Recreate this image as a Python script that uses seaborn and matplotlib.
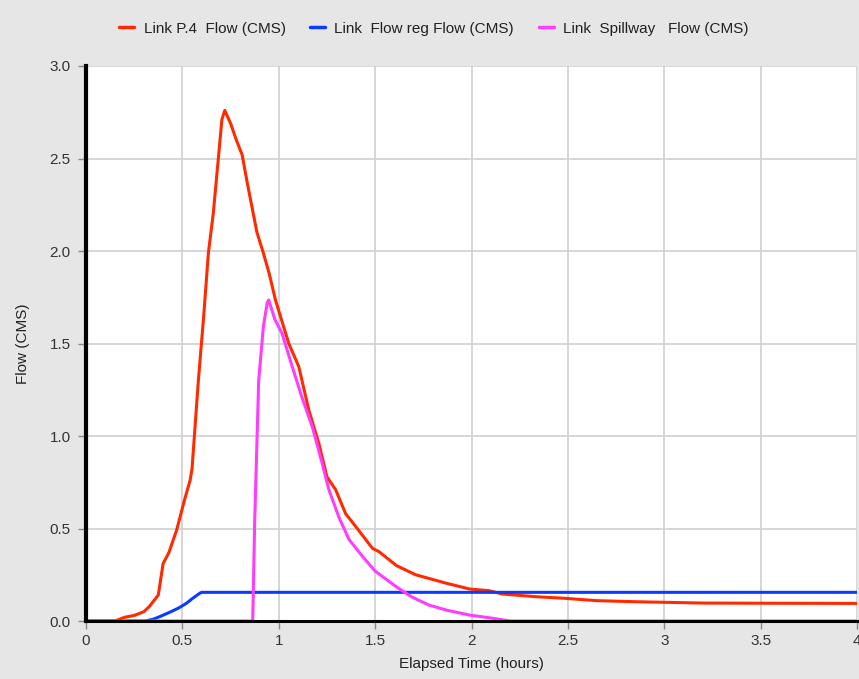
import numpy as np
import pandas as pd
import matplotlib
matplotlib.use("Agg")
import matplotlib.pyplot as plt
import seaborn as sns

# Series: Link P.4 Flow
p4_t = [0.0, 0.15, 0.20, 0.25, 0.30, 0.33, 0.375, 0.40, 0.43, 0.47, 0.51, 0.54, 0.55, 0.583, 0.61,
        0.635, 0.66, 0.6875, 0.705, 0.72, 0.75, 0.78, 0.81, 0.84, 0.887, 0.92, 0.95, 0.983, 1.052,
        1.104, 1.156, 1.208, 1.25, 1.295, 1.347, 1.40, 1.486, 1.52, 1.61, 1.71, 1.78, 1.87, 1.99,
        2.09, 2.16, 2.34, 2.48, 2.65, 2.86, 3.2, 4.0]
p4_v = [0.0, 0.0, 0.02, 0.03, 0.05, 0.08, 0.14, 0.31, 0.37, 0.49, 0.65, 0.76, 0.82, 1.30, 1.64,
        1.99, 2.20, 2.51, 2.71, 2.76, 2.69, 2.60, 2.52, 2.35, 2.10, 1.99, 1.88, 1.735, 1.50,
        1.375, 1.14, 0.96, 0.78, 0.71, 0.58, 0.51, 0.393, 0.375, 0.30, 0.25, 0.23, 0.204, 0.173,
        0.164, 0.146, 0.131, 0.123, 0.11, 0.104, 0.097, 0.095]

# Series: Link Flow reg Flow
reg_t = [0.0, 0.305, 0.35, 0.39, 0.44, 0.48, 0.52, 0.55, 0.59, 0.60, 4.0]
reg_v = [0.0, 0.0, 0.01, 0.027, 0.05, 0.07, 0.095, 0.12, 0.15, 0.155, 0.155]

# Series: Link Spillway Flow
sp_t = [0.0, 0.865, 0.875, 0.885, 0.896, 0.92, 0.94, 0.948, 0.98, 1.017, 1.07, 1.12, 1.174,
        1.226, 1.26, 1.3125, 1.365, 1.434, 1.50, 1.61, 1.69, 1.78, 1.87, 1.99, 2.11, 2.2, 4.0]
sp_v = [0.0, 0.0, 0.53, 0.9, 1.30, 1.59, 1.72, 1.735, 1.63, 1.555, 1.375, 1.21, 1.05,
        0.85, 0.71, 0.56, 0.44, 0.35, 0.27, 0.185, 0.13, 0.086, 0.059, 0.032, 0.015, 0.0, 0.0]

labels = ["Link P.4  Flow (CMS)", "Link  Flow reg Flow (CMS)", "Link  Spillway   Flow (CMS)"]
colors = ["#ff2a00", "#0a3cff", "#ff3cff"]

df = pd.concat([
    pd.DataFrame({"t": p4_t, "v": p4_v, "s": labels[0]}),
    pd.DataFrame({"t": reg_t, "v": reg_v, "s": labels[1]}),
    pd.DataFrame({"t": sp_t, "v": sp_v, "s": labels[2]}),
], ignore_index=True)

sns.set_style("white")
plt.rcParams["font.family"] = ["Liberation Sans", "DejaVu Sans"]

fig = plt.figure(figsize=(8.59, 6.79), dpi=100, facecolor="#e6e6e6")
ax = fig.add_axes([0.1001, 0.0854, 0.8976, 0.8174])
ax.set_facecolor("white")

sns.lineplot(data=df, x="t", y="v", hue="s", hue_order=labels,
             palette=dict(zip(labels, colors)), sort=False, estimator=None,
             linewidth=2.2, ax=ax, legend=False)

ax.set_xlim(0, 4)
ax.set_ylim(0, 3.0)
ax.set_xticks([0, 0.5, 1, 1.5, 2, 2.5, 3, 3.5, 4])
ax.set_xticklabels(["0", "0.5", "1", "1.5", "2", "2.5", "3", "3.5", "4"])
ax.set_yticks([0, 0.5, 1.0, 1.5, 2.0, 2.5, 3.0])
ax.set_yticklabels(["0.0", "0.5", "1.0", "1.5", "2.0", "2.5", "3.0"])
ax.grid(True, color="#d0d0d0", linewidth=1.2)
ax.set_axisbelow(True)

for side in ["top", "right"]:
    ax.spines[side].set_visible(False)
ax.spines["left"].set_color("black")
ax.spines["left"].set_linewidth(3)
ax.spines["bottom"].set_color("black")
ax.spines["bottom"].set_linewidth(2.2)

ax.tick_params(axis="both", which="major", length=6, width=1, color="#888888",
               labelsize=11, labelcolor="#333333", direction="out", bottom=True, left=True)
ax.tick_params(axis="y", pad=5)
ax.set_xlabel("Elapsed Time (hours)", fontsize=11, color="#222222", labelpad=6)
ax.set_ylabel("Flow (CMS)", fontsize=11, color="#222222", labelpad=14)

handles = [plt.Line2D([], [], color=c, linewidth=2.5) for c in colors]
fig.legend(handles, labels, loc="center", bbox_to_anchor=(0.505, 0.958), ncol=3,
           frameon=False, fontsize=11, handlelength=1.0, handletextpad=0.6,
           columnspacing=1.6, labelcolor="#222222")

fig.savefig("out.png", dpi=100, facecolor=fig.get_facecolor())
